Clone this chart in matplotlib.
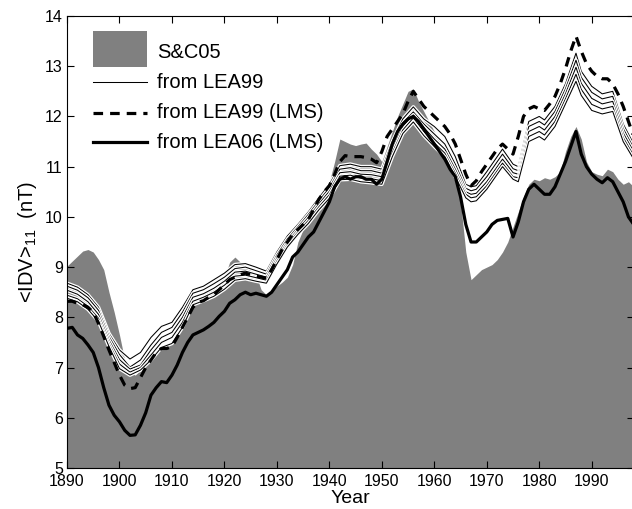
import matplotlib
matplotlib.use("Agg")
import matplotlib.pyplot as plt
import matplotlib.patheffects as pe
from matplotlib.patches import Rectangle
from matplotlib.lines import Line2D

plt.rcParams['font.family'] = ['Liberation Sans', 'DejaVu Sans']
plt.rcParams['mathtext.fontset'] = 'custom'
plt.rcParams['mathtext.rm'] = 'Liberation Sans'
plt.rcParams['mathtext.it'] = 'Liberation Sans:italic'

# ---------------- data ----------------
years = list(range(1890, 1999))

sc05 = [9.02, 9.12, 9.22, 9.32, 9.35, 9.30, 9.15, 8.95, 8.50, 8.10,
        7.65, 7.15, 6.90, 6.85, 6.95, 7.10, 7.25, 7.35, 7.38, 7.40,
        7.50, 7.70, 7.90, 8.10, 8.30, 8.35, 8.45, 8.55, 8.60, 8.70,
        8.80, 9.10, 9.20, 9.10, 9.00, 8.95, 8.85, 8.55, 8.45, 8.52,
        8.62, 8.70, 8.80, 9.05, 9.50, 9.75, 9.95, 10.10, 10.30, 10.50,
        10.70, 11.10, 11.55, 11.50, 11.45, 11.42, 11.45, 11.47, 11.35, 11.25,
        11.10, 11.40, 11.70, 12.00, 12.25, 12.50, 12.55, 12.30, 12.10, 11.90,
        11.70, 11.50, 11.30, 11.10, 10.90, 10.30, 9.30, 8.75, 8.85, 8.95,
        9.00, 9.05, 9.15, 9.30, 9.50, 9.80, 10.10, 10.40, 10.65, 10.75,
        10.72, 10.78, 10.75, 10.80, 10.90, 11.30, 11.60, 11.80, 11.55, 11.10,
        10.90, 10.85, 10.82, 10.95, 10.90, 10.75, 10.65, 10.70, 10.60]

lea99_lms = [8.32, 8.32, 8.28, 8.25, 8.20, 8.10, 7.88, 7.62, 7.35, 7.10,
             6.85, 6.65, 6.58, 6.60, 6.80, 7.00, 7.15, 7.30, 7.38, 7.38,
             7.42, 7.60, 7.80, 8.00, 8.20, 8.30, 8.33, 8.40, 8.45, 8.55,
             8.65, 8.75, 8.80, 8.85, 8.88, 8.85, 8.82, 8.80, 8.78, 8.95,
             9.15, 9.35, 9.50, 9.65, 9.75, 9.85, 9.95, 10.15, 10.35, 10.50,
             10.62, 10.85, 11.10, 11.22, 11.20, 11.20, 11.20, 11.18, 11.15, 11.08,
             11.30, 11.60, 11.75, 11.90, 12.05, 12.30, 12.50, 12.35, 12.20, 12.10,
             12.00, 11.90, 11.80, 11.65, 11.45, 11.15, 10.85, 10.62, 10.72, 10.90,
             11.05, 11.20, 11.35, 11.45, 11.35, 11.25, 11.60, 12.00, 12.15, 12.20,
             12.15, 12.12, 12.25, 12.40, 12.65, 12.95, 13.30, 13.60, 13.30, 13.05,
             12.90, 12.80, 12.75, 12.75, 12.65, 12.45, 12.20, 11.90, 11.60]

lea06_lms = [7.78, 7.80, 7.65, 7.58, 7.45, 7.30, 7.00, 6.60, 6.25, 6.05,
             5.92, 5.75, 5.65, 5.66, 5.85, 6.10, 6.45, 6.60, 6.72, 6.70,
             6.85, 7.05, 7.30, 7.50, 7.65, 7.70, 7.75, 7.82, 7.90, 8.02,
             8.12, 8.28, 8.35, 8.45, 8.50, 8.45, 8.48, 8.45, 8.42, 8.50,
             8.65, 8.80, 8.95, 9.20, 9.30, 9.45, 9.60, 9.70, 9.90, 10.10,
             10.30, 10.60, 10.75, 10.80, 10.75, 10.80, 10.80, 10.75, 10.75, 10.65,
             10.75, 11.10, 11.45, 11.70, 11.85, 11.95, 12.00, 11.90, 11.75, 11.60,
             11.45, 11.30, 11.15, 10.95, 10.80, 10.40, 9.85, 9.50, 9.50, 9.60,
             9.70, 9.85, 9.93, 9.95, 9.97, 9.60, 9.90, 10.30, 10.55, 10.65,
             10.55, 10.45, 10.45, 10.60, 10.85, 11.10, 11.40, 11.70, 11.25, 11.00,
             10.85, 10.75, 10.68, 10.78, 10.70, 10.50, 10.30, 10.00, 9.85]

thin_years = [1890, 1892, 1894, 1896, 1898, 1900, 1902, 1904, 1906, 1908,
              1910, 1912, 1914, 1916, 1918, 1920, 1922, 1924, 1926, 1928,
              1930, 1932, 1934, 1936, 1938, 1940, 1942, 1944, 1946, 1948,
              1950, 1952, 1954, 1956, 1958, 1960, 1962, 1964, 1966, 1967,
              1968, 1970, 1972, 1973, 1975, 1976, 1978, 1980, 1981, 1983,
              1985, 1987, 1988, 1990, 1992, 1994, 1996, 1998]

lea99_a = [8.68, 8.60, 8.45, 8.20, 7.68, 7.35, 7.17, 7.30, 7.60, 7.82,
           7.90, 8.20, 8.55, 8.62, 8.75, 8.88, 9.05, 9.07, 9.00, 8.92,
           9.30, 9.62, 9.85, 10.10, 10.38, 10.65, 11.02, 11.05, 11.00, 11.00,
           10.95, 11.50, 11.95, 12.19, 11.95, 11.80, 11.60, 11.20, 10.65, 10.60,
           10.62, 10.90, 11.20, 11.35, 11.05, 11.00, 11.90, 12.00, 11.93, 12.20,
           12.65, 13.26, 12.90, 12.60, 12.45, 12.50, 11.85, 11.45]
lea99_b = [8.62, 8.54, 8.39, 8.14, 7.62, 7.26, 7.01, 7.15, 7.45, 7.70,
           7.80, 8.10, 8.48, 8.55, 8.67, 8.80, 8.97, 9.00, 8.93, 8.86,
           9.24, 9.56, 9.80, 10.05, 10.32, 10.58, 10.95, 10.98, 10.92, 10.92,
           10.87, 11.42, 11.87, 12.09, 11.85, 11.65, 11.45, 11.05, 10.57, 10.52,
           10.55, 10.80, 11.10, 11.25, 10.96, 10.92, 11.80, 11.90, 11.83, 12.10,
           12.55, 13.12, 12.78, 12.48, 12.35, 12.40, 11.76, 11.37]
lea99_c = [8.54, 8.46, 8.31, 8.06, 7.55, 7.16, 6.97, 7.05, 7.35, 7.60,
           7.70, 8.00, 8.40, 8.47, 8.58, 8.72, 8.90, 8.92, 8.86, 8.80,
           9.18, 9.50, 9.75, 9.99, 10.26, 10.51, 10.88, 10.90, 10.85, 10.84,
           10.80, 11.35, 11.80, 12.03, 11.78, 11.55, 11.35, 10.95, 10.50, 10.45,
           10.47, 10.70, 11.00, 11.15, 10.88, 10.85, 11.70, 11.80, 11.73, 12.00,
           12.45, 12.98, 12.66, 12.36, 12.25, 12.30, 11.67, 11.30]
lea99_d = [8.44, 8.37, 8.22, 7.98, 7.48, 7.07, 6.91, 7.00, 7.25, 7.50,
           7.60, 7.90, 8.32, 8.40, 8.50, 8.64, 8.82, 8.84, 8.79, 8.74,
           9.12, 9.45, 9.70, 9.93, 10.20, 10.44, 10.81, 10.83, 10.77, 10.76,
           10.72, 11.28, 11.73, 11.97, 11.70, 11.47, 11.27, 10.87, 10.45, 10.38,
           10.40, 10.62, 10.92, 11.07, 10.80, 10.78, 11.60, 11.70, 11.63, 11.90,
           12.35, 12.84, 12.54, 12.24, 12.15, 12.20, 11.58, 11.22]
lea99_e = [8.38, 8.31, 8.16, 7.92, 7.42, 6.98, 6.85, 6.95, 7.15, 7.40,
           7.48, 7.80, 8.25, 8.33, 8.42, 8.56, 8.74, 8.77, 8.72, 8.68,
           9.06, 9.40, 9.65, 9.87, 10.14, 10.37, 10.74, 10.75, 10.70, 10.68,
           10.65, 11.20, 11.66, 11.89, 11.62, 11.40, 11.20, 10.80, 10.38, 10.30,
           10.32, 10.55, 10.85, 11.00, 10.75, 10.70, 11.50, 11.60, 11.53, 11.80,
           12.25, 12.70, 12.42, 12.12, 12.05, 12.10, 11.50, 11.15]
lea99_lines = [lea99_a, lea99_b, lea99_c, lea99_d, lea99_e]

x_ticks = [1890, 1900, 1910, 1920, 1930, 1940, 1950, 1960, 1970, 1980, 1990]
y_ticks = [5, 6, 7, 8, 9, 10, 11, 12, 13, 14]

# ---------------- figure ----------------
W, H = 632, 509
fig = plt.figure(figsize=(W / 100, H / 100), dpi=100)
ax = fig.add_axes([67 / W, 41 / H, 566.7 / W, 452 / H])

gray = '#808080'
ax.fill_between(years, 5, sc05, color=gray, lw=0, zorder=1)

halo = [pe.Stroke(linewidth=2.6, foreground='white'), pe.Normal()]
for vals in lea99_lines:
    ax.plot(thin_years, vals, color='black', lw=0.75, zorder=2,
            path_effects=halo, solid_joinstyle='round')

ax.plot(years, lea99_lms, color='black', lw=2.3, ls=(0, (3, 2.2)), zorder=3,
        dash_capstyle='butt')
ax.plot(years, lea06_lms, color='black', lw=2.3, zorder=4,
        solid_joinstyle='round')

ax.set_xlim(1890, 1998)
ax.set_ylim(5, 14)
ax.set_xticks(x_ticks)
ax.set_yticks(y_ticks)
ax.tick_params(direction='in', length=5, width=0.8, labelsize=11.5,
               top=True, right=True)
ax.tick_params(axis='x', pad=4.5)
ax.tick_params(axis='y', pad=3)
for s in ax.spines.values():
    s.set_linewidth(0.8)

ax.set_xlabel('Year', fontsize=14, labelpad=0.5)
ax.set_ylabel(r'<IDV>$_{11}$  (nT)', fontsize=14.5, labelpad=4)

# ---------------- legend (manual) ----------------
def axx(px):
    return (px - 67) / 566.7

def axy(py):
    return (468 - py) / 452

tr = ax.transAxes
ax.add_patch(Rectangle((axx(93), axy(67)), axx(147) - axx(93), axy(31) - axy(67),
                       transform=tr, color=gray, lw=0, zorder=6))
ax.add_line(Line2D([axx(93), axx(147)], [axy(82)] * 2, transform=tr,
                   color='black', lw=0.75, zorder=6))
ax.add_line(Line2D([axx(93), axx(147)], [axy(113)] * 2, transform=tr,
                   color='black', lw=2.3, ls=(0, (3, 2.2)), zorder=6))
ax.add_line(Line2D([axx(93), axx(147)], [axy(142)] * 2, transform=tr,
                   color='black', lw=2.3, zorder=6))
labels = ['S&C05', 'from LEA99', 'from LEA99 (LMS)', 'from LEA06 (LMS)']
rows = [53, 82, 113, 142]
for lab, r in zip(labels, rows):
    ax.text(axx(157), axy(r), lab, transform=tr, fontsize=14.5, va='center',
            ha='left', zorder=6)

fig.savefig('out.png', dpi=100)
